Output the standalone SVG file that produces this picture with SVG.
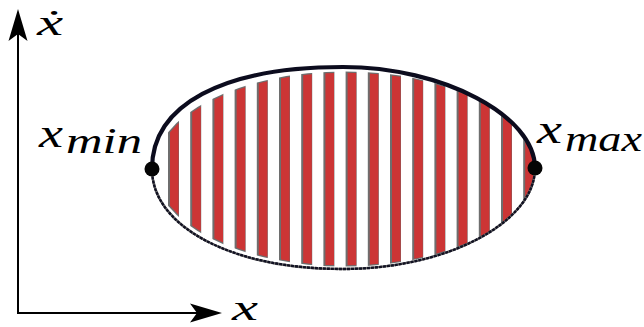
<svg xmlns="http://www.w3.org/2000/svg" width="644" height="327" viewBox="0 0 644 327">
<style>
text{font-family:'Liberation Serif','DejaVu Serif',serif;font-style:italic;fill:#000}
.sg{fill:#6e6e6e}
.sr{fill:#cc3535}
.top{fill:none;stroke:#0c0c1e;stroke-width:4.2;stroke-linecap:round}
.bot{fill:none;stroke:#111122;stroke-width:2.4;stroke-dasharray:3 1}
.botu{fill:none;stroke:#6a6a6a;stroke-width:2.4}
.axis{fill:none;stroke:#000;stroke-width:2}
.pt{fill:#050505}
</style>
<defs>
<marker id="stealth" viewBox="-42 -10 43 20" refX="-10" refY="0" markerWidth="43" markerHeight="20" markerUnits="userSpaceOnUse" orient="auto-start-reverse">
<path d="M0,0 L-32,-9.5 L-25,0 L-32,9.5 Z" fill="#000"/>
</marker>
<clipPath id="outer"><ellipse cx="345" cy="169" rx="191" ry="97.5"/></clipPath>
<clipPath id="inner"><ellipse cx="345.5" cy="169" rx="190" ry="96.3"/></clipPath>
</defs>

<g id="axes">
<path class="axis" d="M18,19 L18,313 L212,313" marker-start="url(#stealth)" marker-end="url(#stealth)"/>
<text x="37" y="35" font-size="36" textLength="26" lengthAdjust="spacingAndGlyphs">ẋ</text>
<text x="232" y="320" font-size="36" textLength="26" lengthAdjust="spacingAndGlyphs">x</text>
</g>

<g id="region">
<g clip-path="url(#outer)">
<rect class="sg" x="168" y="60" width="11" height="220"/>
<rect class="sg" x="190.2" y="60" width="11" height="220"/>
<rect class="sg" x="212.4" y="60" width="11" height="220"/>
<rect class="sg" x="234.6" y="60" width="11" height="220"/>
<rect class="sg" x="256.8" y="60" width="11" height="220"/>
<rect class="sg" x="279" y="60" width="11" height="220"/>
<rect class="sg" x="301.2" y="60" width="11" height="220"/>
<rect class="sg" x="323.4" y="60" width="11" height="220"/>
<rect class="sg" x="345.6" y="60" width="11" height="220"/>
<rect class="sg" x="367.8" y="60" width="11" height="220"/>
<rect class="sg" x="390" y="60" width="11" height="220"/>
<rect class="sg" x="412.2" y="60" width="11" height="220"/>
<rect class="sg" x="434.4" y="60" width="11" height="220"/>
<rect class="sg" x="456.6" y="60" width="11" height="220"/>
<rect class="sg" x="478.8" y="60" width="11" height="220"/>
<rect class="sg" x="501" y="60" width="11" height="220"/>
<rect class="sg" x="523.2" y="60" width="11" height="220"/>
</g>
<g clip-path="url(#inner)">
<rect class="sr" x="170" y="60" width="8.6" height="220"/>
<rect class="sr" x="192.2" y="60" width="8.6" height="220"/>
<rect class="sr" x="214.4" y="60" width="8.6" height="220"/>
<rect class="sr" x="236.6" y="60" width="8.6" height="220"/>
<rect class="sr" x="258.8" y="60" width="8.6" height="220"/>
<rect class="sr" x="281" y="60" width="8.6" height="220"/>
<rect class="sr" x="303.2" y="60" width="8.6" height="220"/>
<rect class="sr" x="325.4" y="60" width="8.6" height="220"/>
<rect class="sr" x="347.6" y="60" width="8.6" height="220"/>
<rect class="sr" x="369.8" y="60" width="8.6" height="220"/>
<rect class="sr" x="392" y="60" width="8.6" height="220"/>
<rect class="sr" x="414.2" y="60" width="8.6" height="220"/>
<rect class="sr" x="436.4" y="60" width="8.6" height="220"/>
<rect class="sr" x="458.6" y="60" width="8.6" height="220"/>
<rect class="sr" x="480.8" y="60" width="8.6" height="220"/>
<rect class="sr" x="503" y="60" width="8.6" height="220"/>
<rect class="sr" x="525.2" y="60" width="8.6" height="220"/>
</g>
</g>

<g id="boundary">
<path class="botu" d="M535,168 C535,222.5 446.7,269 343,269 C232.2,269 152,227 152,169"/>
<path class="bot" d="M535,168 C535,222.5 446.7,269 343,269 C232.2,269 152,227 152,169"/>
<path class="top" d="M152,169 C152,104.7 222.7,67 343,67 C442.8,67 535,115.5 535,168"/>
</g>

<g id="xmin">
<circle class="pt" cx="152" cy="169" r="7.5"/>
<text x="39" y="147" font-size="40" textLength="24" lengthAdjust="spacingAndGlyphs">x</text>
<text x="66" y="153" font-size="36" textLength="76" lengthAdjust="spacingAndGlyphs">min</text>
</g>

<g id="xmax">
<circle class="pt" cx="535" cy="168" r="7.5"/>
<text x="537" y="143" font-size="40" textLength="25" lengthAdjust="spacingAndGlyphs">x</text>
<text x="565" y="151" font-size="36" textLength="77" lengthAdjust="spacingAndGlyphs">max</text>
</g>
</svg>
